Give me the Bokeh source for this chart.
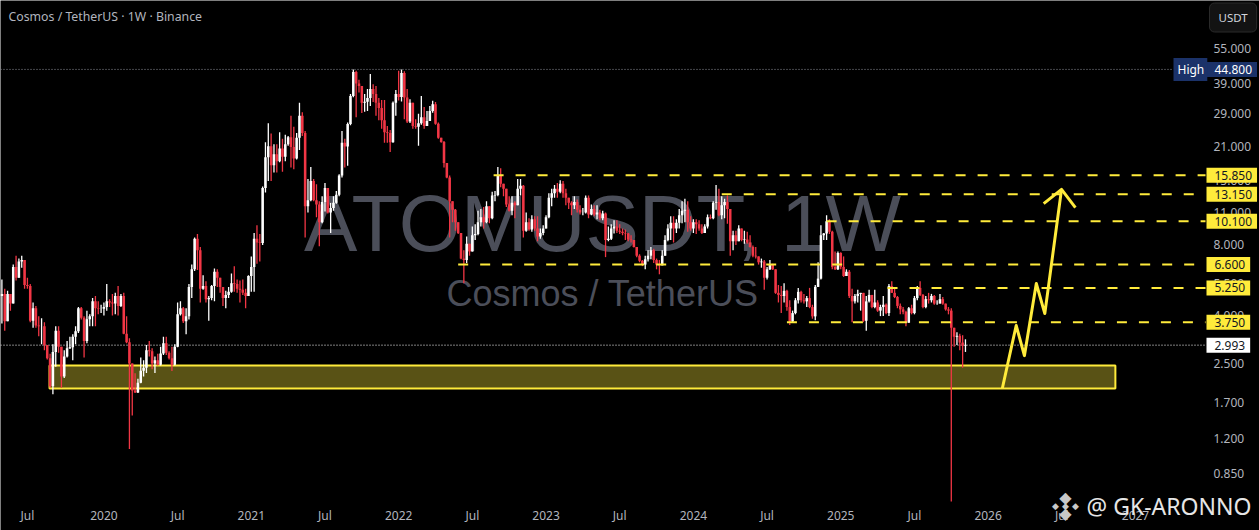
from bokeh.embed import file_html
from bokeh.resources import INLINE
from bokeh.plotting import figure
from bokeh.models import ColumnDataSource, Label, FixedTicker, PrintfTickFormatter
from bokeh.core.properties import value

first_open = 4.85
closes = [4.95,3.78,4.95,4.5,6.45,5.8,6.8,6.9,5.4,5.35,3.8,4.3,3.63,3.6,3.6,3.0,2.63,2.0,2.8,3.45,2.95,2.2,2.68,2.9,2.93,3.25,3.43,4.3,3.92,3.12,3.86,3.97,4.6,4.3,4.28,4.28,4.35,4.6,4.55,4.5,4.85,4.4,4.85,3.35,3.08,2.5,1.92,1.88,2.07,2.33,2.4,2.85,2.82,2.5,2.58,2.47,2.76,3.05,2.78,2.63,2.47,2.95,4.05,4.3,3.78,3.97,5.3,6.3,8.5,7.6,5.2,5.35,4.7,4.75,5.35,6.15,5.8,5.3,4.75,4.9,5.05,5.5,5.45,5.2,5.15,5.0,4.85,5.9,6.45,8.5,8.2,8.15,14.0,18.9,21.1,17.5,19.5,18.2,20.6,19.0,21.5,23.0,20.9,18.7,22.9,28.4,24.0,11.7,12.4,15.0,12.4,11.9,10.0,12.2,14.0,11.0,11.5,12.1,13.1,15.8,21.8,21.0,26.2,34.5,43.7,39.0,38.1,32.3,32.6,33.8,37.0,35.2,32.3,30.7,27.2,24.2,24.0,21.9,32.3,35.2,34.2,43.2,34.0,26.9,32.3,25.7,25.5,26.4,28.0,25.7,27.0,29.8,31.8,26.3,22.9,22.0,17.9,15.5,12.3,11.3,10.0,9.0,7.0,6.9,8.1,7.5,8.8,8.9,10.0,10.5,10.0,11.7,10.4,13.0,13.05,15.8,14.6,13.9,11.9,11.2,12.1,11.8,13.9,14.3,9.2,10.0,9.3,10.3,9.4,8.7,9.0,9.4,10.5,12.7,13.3,13.9,13.5,14.6,13.3,12.7,12.1,11.8,12.2,11.3,11.0,11.0,12.7,10.8,11.4,10.8,11.0,10.4,10.9,8.4,8.5,9.4,9.6,9.2,9.1,9.0,8.95,8.45,8.4,7.85,7.2,6.85,6.6,6.95,7.2,7.6,6.9,6.6,6.55,7.2,8.4,9.4,9.95,9.4,9.95,10.7,11.2,11.3,10.0,9.4,10.0,9.8,9.4,9.0,9.6,10.5,10.4,12.1,12.2,10.7,11.8,12.2,11.4,8.3,8.8,8.3,9.4,8.4,8.45,8.2,7.85,7.2,7.15,6.75,6.8,5.8,6.3,6.6,6.3,5.0,4.9,4.85,5.1,4.35,3.78,4.1,4.65,5.05,4.65,4.6,4.75,4.35,3.97,5.3,5.75,8.8,8.95,10.1,9.1,6.45,6.3,7.4,6.45,5.9,6.15,4.85,4.6,4.85,4.95,5.0,3.8,4.6,4.9,4.35,4.55,4.2,4.35,4.45,4.1,5.35,5.0,4.8,4.4,4.25,4.15,3.73,4.3,4.1,4.75,5.25,4.9,4.35,4.7,4.65,4.85,4.5,4.5,4.7,4.5,4.25,4.2,3.55,3.25,3.28,3.07,2.98,2.993]
highs = [5.7,5.2,5.1,4.95,6.6,7.2,7.0,7.2,6.9,5.8,5.45,4.55,4.4,3.97,3.9,3.75,3.0,2.75,3.02,3.6,3.6,2.95,2.85,3.12,3.25,3.33,3.6,4.35,4.35,3.97,4.2,4.05,4.75,4.85,4.6,4.45,4.55,5.45,4.7,4.95,5.0,5.35,4.95,5.0,3.97,3.2,2.5,2.27,2.15,2.65,2.58,3.0,3.12,2.9,2.68,2.75,2.95,3.25,3.25,2.82,2.95,3.02,4.55,4.6,4.35,4.3,5.45,6.6,8.6,8.9,7.85,5.95,5.6,4.85,5.4,6.35,6.3,5.8,5.3,5.1,5.3,6.05,6.5,5.7,5.65,5.7,5.2,5.95,7.15,9.0,9.7,8.9,14.2,21.9,26.4,23.9,21.5,21.5,24.2,22.7,23.6,23.3,28.4,25.5,24.0,32.3,29.4,24.5,15.3,17.2,15.3,14.5,12.3,12.9,14.7,14.0,12.1,12.9,13.6,16.0,24.5,22.7,26.6,35.2,44.8,44.2,40.5,38.1,35.2,37.0,42.8,38.7,38.1,33.8,33.2,33.2,25.7,24.7,32.7,36.6,44.2,44.8,44.0,37.0,33.4,32.3,27.5,29.0,34.5,31.0,29.8,31.3,32.9,32.5,26.6,22.9,22.2,17.9,15.8,12.3,11.4,10.0,9.0,7.6,8.7,8.0,9.6,9.8,11.2,11.4,11.6,12.3,11.7,13.5,13.6,17.2,17.0,14.6,13.9,12.9,12.9,12.3,15.3,15.3,14.4,11.0,10.4,10.7,10.6,10.6,9.4,9.7,10.7,13.3,13.9,14.4,14.7,15.1,15.0,13.9,12.7,12.3,12.9,12.5,11.8,11.5,13.0,13.0,11.9,11.8,11.8,11.3,11.2,11.0,9.6,9.8,10.2,10.2,9.8,9.4,9.3,9.0,8.8,8.4,7.8,7.3,6.9,7.2,7.6,7.85,7.7,7.0,6.9,7.6,8.8,9.8,10.6,10.6,10.3,11.4,12.3,12.6,12.3,10.6,10.3,10.3,10.2,9.8,9.8,10.8,10.8,12.3,14.4,13.9,12.9,12.6,13.0,11.4,9.2,9.2,9.7,9.4,9.2,9.1,8.8,7.95,7.85,6.95,7.0,6.9,6.45,6.9,6.65,6.3,5.4,5.35,5.5,5.15,4.65,4.2,4.75,5.25,5.1,4.95,4.85,5.25,4.45,5.4,6.75,9.7,9.0,10.7,10.3,9.2,7.5,7.5,7.45,7.15,6.3,6.25,5.2,4.95,5.15,4.95,5.0,4.85,5.15,4.9,5.15,4.65,4.45,4.85,4.5,5.45,5.6,5.2,4.85,4.5,4.35,4.2,4.35,4.45,4.85,5.35,5.6,4.95,4.85,5.0,4.95,4.9,4.65,4.95,4.8,4.5,4.35,4.3,3.55,3.4,3.35,3.3,3.17]
lows = [3.7,3.45,3.78,4.2,4.5,5.65,5.8,6.4,5.2,5.2,3.75,3.55,3.55,3.27,3.02,2.85,2.6,1.97,1.85,2.42,2.78,1.97,2.17,2.65,2.88,2.58,3.02,3.37,3.85,2.65,3.05,3.6,3.6,3.6,4.05,4.1,4.0,4.2,4.35,4.0,4.05,4.0,4.35,3.33,3.05,1.08,1.5,1.87,1.87,2.06,2.2,2.28,2.68,2.36,2.28,2.45,2.45,2.72,2.72,2.6,2.32,2.45,2.93,4.0,3.72,3.33,3.85,4.75,6.2,6.25,4.55,5.15,4.55,3.8,4.65,4.6,5.3,5.0,4.4,4.3,4.75,5.0,5.05,5.0,4.55,4.9,4.3,4.85,5.05,5.05,6.65,6.8,8.0,13.4,15.0,15.0,16.3,16.3,18.0,16.4,18.2,21.2,17.1,16.8,18.5,20.3,23.3,8.6,11.0,12.3,12.3,10.5,7.9,9.9,11.1,10.9,9.0,11.2,12.0,12.9,15.5,17.1,17.4,25.9,34.1,28.0,35.7,29.2,29.6,29.8,31.3,32.5,28.4,27.2,25.0,21.8,21.8,19.9,21.8,28.4,33.0,32.7,27.5,26.5,26.5,25.0,25.0,21.2,26.0,25.0,26.0,27.0,29.3,26.0,22.7,21.8,17.1,15.4,8.6,10.0,9.2,8.9,6.95,5.5,6.7,7.2,7.5,8.4,8.8,9.6,9.4,9.9,9.9,10.3,12.3,12.9,14.1,12.9,11.6,11.1,10.7,10.4,11.8,13.0,8.6,9.1,9.2,9.1,9.2,8.3,8.5,8.8,9.4,10.4,11.7,12.7,12.7,13.3,12.7,11.8,11.4,10.7,11.4,11.0,10.8,10.7,10.9,10.4,10.7,10.6,10.3,10.2,10.2,7.1,8.3,8.4,8.95,9.0,8.9,8.8,8.4,8.3,8.2,7.8,7.1,6.75,6.5,6.3,6.8,6.95,6.7,6.3,6.0,6.55,7.2,8.3,8.4,8.2,9.0,9.4,9.9,10.0,9.1,9.2,9.0,8.9,9.2,8.9,9.0,9.4,10.3,10.3,11.3,10.6,10.3,10.4,9.85,7.2,7.6,8.0,8.3,8.3,8.1,8.1,7.8,7.1,7.0,6.6,6.4,5.15,5.7,6.25,6.25,4.95,4.55,4.1,4.55,4.2,3.65,3.75,4.05,4.5,4.55,4.5,4.35,4.3,3.88,3.82,5.3,5.7,8.4,8.4,8.9,6.3,6.25,6.25,6.3,5.85,5.9,4.75,3.75,4.5,4.55,4.2,3.75,3.45,4.55,4.3,4.3,4.15,3.98,3.98,4.05,3.98,5.0,4.75,4.3,4.05,4.05,3.6,3.73,4.05,4.05,4.65,4.85,4.3,4.3,4.5,4.55,4.45,4.45,4.55,4.45,4.2,4.05,0.645,2.95,3.0,2.85,2.4,2.8]
opens = [first_open] + closes[:-1]

time_tick_weeks = [9,36,62,88,114,140,166,192,218,244,270,296,322,348,374,400]
time_tick_labels = ["Jul","2020","Jul","2021","Jul","2022","Jul","2023","Jul","2024","Jul","2025","Jul","2026","Jul","2027"]
price_ticks = [55,39,29,21,15,11,8,5.5,4,2.5,1.7,1.2,0.85]
level_prices = [15.85,13.15,10.10,6.60,5.25,3.75]
level_labels = ["15.850","13.150","10.100","6.600","5.250","3.750"]
level_start_weeks = [173.5,254,291,161,312.5,277]
zone_top, zone_bottom, zone_start, zone_end = 2.45,1.955,16.8,392.9
path_weeks = [353,357.9,360.8,365,368,373.9]
path_prices = [1.956,3.63,2.70,5.48,4.08,13.8]
head_weeks = [367.6,373.9,378.8]
head_prices = [12.0,13.8,11.55]
high_price, last_price = 44.8, 2.993

BG="#000000"; RED="#f23645"; WHITE="#ffffff"; YEL="#ffeb3b"; GREY="#b2b5be"; MARK="#4b4e59"
WEEK_PX=2.834; X0=1.4
def wk(page_x): return (page_x-X0)/WEEK_PX

n=len(closes)
assert len(highs)==n and len(lows)==n, (n,len(highs),len(lows))
weeks=list(range(n))
tops=[max(a,b) for a,b in zip(opens,closes)]
bots=[min(a,b) for a,b in zip(opens,closes)]
src=ColumnDataSource(dict(x=weeks,h=[max(a,b) for a,b in zip(highs,tops)],l=[min(a,b) for a,b in zip(lows,bots)],
    top=tops,bot=bots,col=[WHITE if c>=o else RED for o,c in zip(opens,closes)]))

W,H=1259,530
p=figure(width=W,height=H,output_backend="svg",toolbar_location=None,
    y_axis_type="log",y_axis_location="right",
    x_range=(wk(0),wk(W)),y_range=(0.4855,88.1),
    background_fill_color=BG,border_fill_color=BG,outline_line_color=None,
    min_border_left=0,min_border_top=0,min_border_right=0,min_border_bottom=0)
p.grid.visible=False
p.xaxis.ticker=FixedTicker(ticks=time_tick_weeks)
p.xaxis.major_label_overrides=dict(zip(time_tick_weeks,time_tick_labels))
p.xaxis.fixed_location=0.684
p.yaxis.ticker=FixedTicker(ticks=price_ticks)
p.yaxis.formatter=PrintfTickFormatter(format="%.3f")
p.yaxis.fixed_location=wk(1206)
for ax in (p.xaxis[0],p.yaxis[0]):
    ax.axis_line_color=None; ax.major_tick_line_color=None; ax.minor_tick_line_color=None
    ax.major_label_text_color=GREY; ax.major_label_text_font="Noto Sans"; ax.major_label_text_font_size="12px"
p.xaxis.major_label_standoff=5
p.yaxis.major_label_standoff=1

# watermark
mid=wk(602)
p.text([mid],[9.9],text=["ATOMUSDT, 1W"],text_font=value("Liberation Sans"),text_font_size="80px",
    text_color=MARK,text_align="center",text_baseline="middle")
p.text([mid],[4.95],text=["Cosmos / TetherUS"],text_font=value("Liberation Sans"),text_font_size="36px",
    text_color=MARK,text_align="center",text_baseline="middle")

# zone
p.quad(left=[zone_start],right=[zone_end],top=[zone_top],bottom=[zone_bottom],
    fill_color=YEL,fill_alpha=0.35,line_color=YEL,line_width=2)

# price lines
p.line([wk(0),wk(1172)],[high_price]*2,line_color="#8a8d96",line_width=1,line_dash="1 2")
p.line([wk(0),wk(1206)],[last_price]*2,line_color=WHITE,line_width=1,line_dash="1 2")

# candles
p.segment("x","h","x","l",source=src,line_color="col",line_width=1.3)
p.vbar("x",0.9,"bot","top",source=src,fill_color="col",line_color=None)

# levels
for pr,st in zip(level_prices,level_start_weeks):
    p.line([st,wk(1205)],[pr,pr],line_color=YEL,line_width=2,line_dash="10 12")

# arrow
p.line(path_weeks,path_prices,line_color=YEL,line_width=3,line_join="round")
p.line(head_weeks,head_prices,line_color=YEL,line_width=3,line_join="round")

def tag(text,price,bg,fg,left=1206,pad_l=8,pad_r=5):
    p.add_layout(Label(x=left,y=price,x_units="screen",y_units="data",text=text,text_color=fg,
        text_font="Noto Sans",text_font_size="12px",text_baseline="middle",text_align="left",
        background_fill_color=bg,padding=(pad_l,pad_r,3,3)))

for pr,lb in zip(level_prices,level_labels):
    tag(lb,pr,YEL,"#131722")
tag("2.993",last_price,WHITE,"#131722")
tag("44.800",high_price,"#1b3269",WHITE)
tag("High",high_price,"#1b3269",WHITE,left=1173,pad_l=4,pad_r=3)

# header
p.add_layout(Label(x=8,y=H-16,x_units="screen",y_units="screen",text="Cosmos / TetherUS · 1W · Binance",
    text_color=GREY,text_font="Noto Sans",text_font_size="12.3px",text_baseline="middle"))
p.add_layout(Label(x=1209,y=H-17,x_units="screen",y_units="screen",text="USDT",
    text_color="#d1d4dc",text_font="Noto Sans",text_font_size="11.5px",text_baseline="middle",
    background_fill_color="#131313",padding=(9,9,7,7),border_line_color="#2a2a2a",border_radius=5))

# logo + credit
for dx,dy,s in [(0,-8,"16px"),(-10,0,"9px"),(10,0,"9px"),(0,8,"16px"),(0,0,"9px")]:
    p.add_layout(Label(x=1065+dx,y=H-505-dy,x_units="screen",y_units="screen",text="◆",
        text_color="#c8c8c8",text_font="DejaVu Sans",text_font_size=s,text_align="center",text_baseline="middle"))
p.add_layout(Label(x=1086,y=H-505,x_units="screen",y_units="screen",text="@ GK-ARONNO",
    text_color="#e6e6e6",text_font="Noto Sans",text_font_size="23px",text_baseline="middle"))

open("out.html","w").write(file_html(p,INLINE))
